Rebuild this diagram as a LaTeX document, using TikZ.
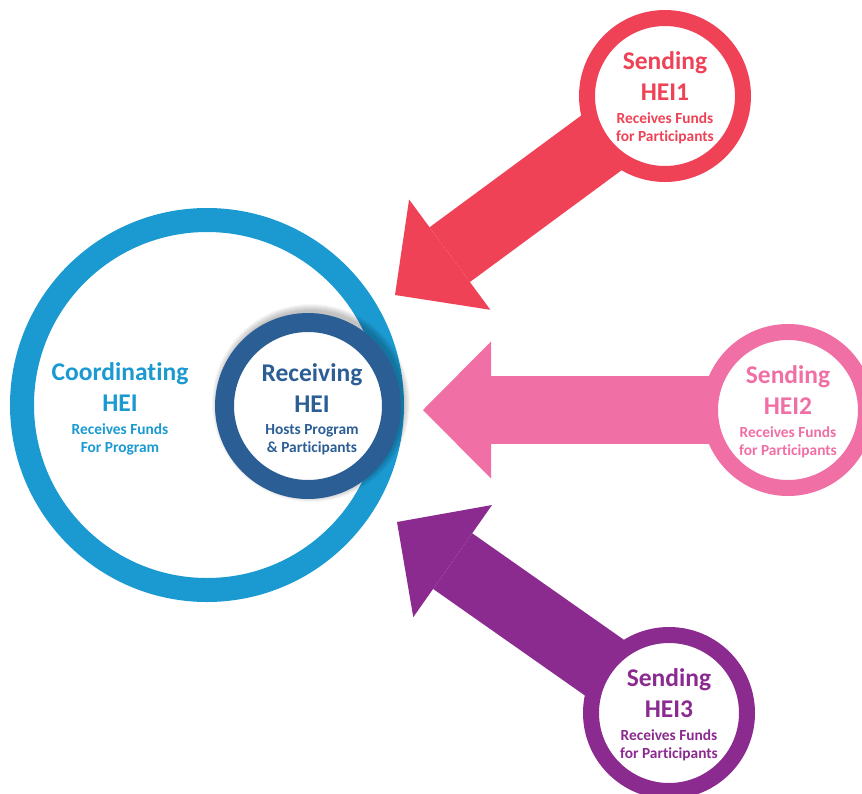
\documentclass[tikz,border=0pt]{standalone}
\usepackage{fontspec}
\setmainfont{Carlito}[Ligatures=NoCommon]
\usetikzlibrary{arrows.meta, positioning, backgrounds}
\definecolor{coordblue}{HTML}{1B9AD2}
\definecolor{recvblue}{HTML}{2B5E94}
\definecolor{redc}{HTML}{EF4257}
\definecolor{pinkc}{HTML}{F06FA5}
\definecolor{purplec}{HTML}{8B2A8F}
\newcommand{\headfont}{\bfseries\fontsize{25.5}{31}\selectfont}
\newcommand{\subfont}{\bfseries\fontsize{15.4}{17.5}\selectfont}
\tikzstyle{ring}=[circle,draw,fill=white,line width=16pt,minimum size=156pt,inner sep=0pt]
\tikzstyle{hlabel}=[font=\headfont,align=center,inner sep=0pt]
\tikzstyle{nlabel}=[font=\subfont,align=center,inner sep=0pt]
\tikzstyle{fat}=[line width=68pt,-{Triangle[length=68pt,width=137pt,line width=0pt]}]

\begin{document}
\begin{tikzpicture}[x=1pt,y=-1pt]
  \useasboundingbox (0,0) rectangle (862,793);
  % circles
  \node[ring, draw=coordblue, line width=24pt, minimum size=370pt] (coord) at (207,405) {};
  \coordinate (shade) at (311,403);
  \foreach \r in {1,...,7}
    \fill[black, opacity=0.035] (shade) circle (92+\r);
  \node[ring, draw=recvblue, line width=19pt, minimum size=167pt] (recv) at (308,406) {};
  \node[ring, draw=redc] (hei1) at (665,96) {};
  \node[ring, draw=pinkc] (hei2) at (788,410) {};
  \node[ring, draw=purplec] (hei3) at (669,713) {};
  % texts
  \node[hlabel, text=coordblue] (coord head) at (120,387) {Coordinating\\HEI};
  \node[nlabel, text=coordblue, below=12pt of coord head] (coord sub) {Receives Funds\\For Program};
  \node[hlabel, text=recvblue] (recv head) at (312,388) {Receiving\\HEI};
  \node[nlabel, text=recvblue, below=12pt of recv head] (recv sub) {Hosts Program\\\& Participants};
  \node[hlabel, text=redc] (hei1 head) at ([yshift=20pt]hei1.center) {Sending\\HEI1};
  \node[nlabel, text=redc, below=12pt of hei1 head] (hei1 sub) {Receives Funds\\for Participants};
  \node[hlabel, text=pinkc] (hei2 head) at ([yshift=20pt]hei2.center) {Sending\\HEI2};
  \node[nlabel, text=pinkc, below=12pt of hei2 head] (hei2 sub) {Receives Funds\\for Participants};
  \node[hlabel, text=purplec] (hei3 head) at ([yshift=20pt]hei3.center) {Sending\\HEI3};
  \node[nlabel, text=purplec, below=12pt of hei3 head] (hei3 sub) {Receives Funds\\for Participants};
  % arrows
  \coordinate (tip1) at (395,295);
  \coordinate (tip2) at (423,410);
  \coordinate (tip3) at (397,522);
  \begin{scope}[on background layer]
    \draw[fat, redc] (hei1.center) -- (tip1);
    \draw[fat, pinkc] (hei2.center) -- (tip2);
    \draw[fat, purplec] (hei3.center) -- (tip3);
  \end{scope}
\end{tikzpicture}
\end{document}
